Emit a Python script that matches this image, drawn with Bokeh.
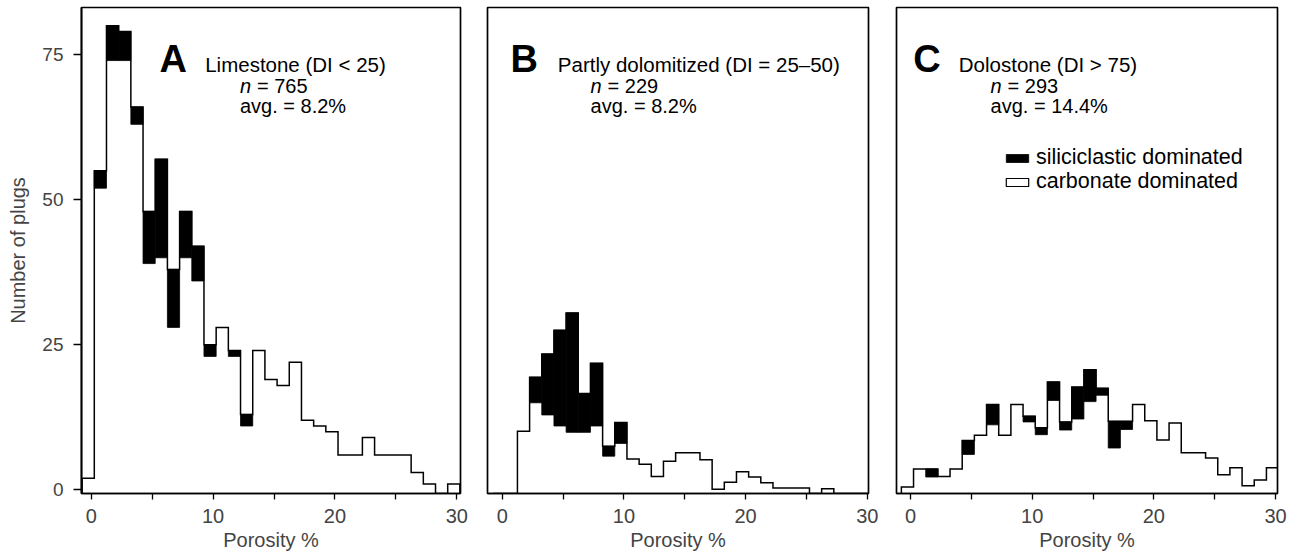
import numpy as np
from bokeh.plotting import figure
from bokeh.layouts import row
from bokeh.models import Range1d, FixedTicker, Label, ColumnDataSource, Legend, LegendItem
from bokeh.embed import file_html
from bokeh.resources import INLINE

# ---------------- data ----------------
# lower edges of the 1 %-wide porosity classes (as placed in the original figure)
bin_low = [-0.75, 0.25, 1.25, 2.25, 3.25, 4.25, 5.25, 6.25, 7.25, 8.25, 9.25,
           10.25, 11.25, 12.25, 13.25, 14.25, 15.25, 16.25, 17.25, 18.25, 19.25,
           20.25, 21.25, 22.25, 23.25, 24.25, 25.25, 26.25, 27.25, 28.25, 29.25]
BIN_W = 1.0

# A  Limestone: total plugs per class and carbonate-dominated part
a_total = [2, 55, 80, 79, 66, 48, 57, 38, 48, 42, 25, 28, 24, 13, 24, 19, 18, 22,
           12, 11, 10, 6, 6, 9, 6, 6, 6, 3, 1, 0, 1]
a_carb = [2, 52, 74, 74, 63, 39, 40, 28, 40, 36, 23, 28, 23, 11, 24, 19, 18, 22,
          12, 11, 10, 6, 6, 9, 6, 6, 6, 3, 1, 0, 1]

# B  Partly dolomitized
b_total = [0, 0, 10.1, 19.4, 23.4, 27.5, 30.5, 16.6, 21.8, 7.5, 11.6, 5.3, 4.4, 2.3,
           4.9, 6.4, 6.4, 5.2, 0.1, 1.3, 3.1, 2.2, 1.2, 0.3, 0.3, 0.3, 0, 0.2, 0, 0, 0]
b_carb = [0, 0, 10.1, 15.0, 12.9, 11.0, 9.9, 9.9, 11.0, 5.8, 8.0, 5.3, 4.4, 2.3,
          4.9, 6.4, 6.4, 5.2, 0.1, 1.3, 3.1, 2.2, 1.2, 0.3, 0.3, 0.3, 0, 0.2, 0, 0, 0]

# C  Dolostone
c_total = [0.5, 3.6, 3.6, 2.3, 3.6, 8.5, 9.4, 14.7, 9.4, 14.7, 12.7, 10.7, 18.6, 11.7,
           17.7, 20.7, 17.5, 11.8, 11.8, 14.7, 11.9, 8.6, 11.5, 6.4, 6.4, 5.5, 2.6,
           3.8, 0.7, 1.7, 3.8]
c_carb = [0.5, 3.6, 2.2, 2.3, 3.6, 6.1, 9.4, 11.2, 9.4, 14.7, 11.7, 9.5, 15.4, 10.3,
          12.2, 15.2, 16.3, 7.2, 10.4, 14.7, 11.9, 8.6, 11.5, 6.4, 6.4, 5.5, 2.6,
          3.8, 0.7, 1.7, 3.8]

letters = ["A", "B", "C"]
titles = ["Limestone (DI < 25)", "Partly dolomitized (DI = 25\u201350)", "Dolostone (DI > 75)"]
n_values = ["= 765", "= 229", "= 293"]
avg_values = ["avg. = 8.2%", "avg. = 8.2%", "avg. = 14.4%"]
x_ticks = [0, 10, 20, 30]
x_minor = [5, 15, 25]
y_ticks = [0, 25, 50, 75]
legend_labels = ["siliciclastic dominated", "carbonate dominated"]

FONT = "Liberation Sans"
Y0, Y1 = -0.64, 83.15


def make_panel(total, carb, width, bl, br, xr, show_y, txt_x, letter, title, nval, avg):
    p = figure(width=width, height=555, x_range=Range1d(*xr), y_range=Range1d(Y0, Y1),
               output_backend="svg", toolbar_location=None,
               min_border_left=bl, min_border_right=br, min_border_top=7, min_border_bottom=62)
    p.xgrid.visible = False
    p.ygrid.visible = False
    p.outline_line_color = "black"
    p.outline_line_width = 1.7
    p.background_fill_color = "white"
    p.border_fill_color = "white"

    # black (siliciclastic) caps
    lo = [l for l, t, c in zip(bin_low, total, carb) if t > c]
    src = ColumnDataSource(dict(
        left=lo,
        right=[l + BIN_W for l in lo],
        bottom=[c for t, c in zip(total, carb) if t > c],
        top=[t for t, c in zip(total, carb) if t > c]))
    black = p.quad(left="left", right="right", bottom="bottom", top="top", source=src,
                   fill_color="black", line_color="black", line_width=0.8)

    # step outline
    xs = [bin_low[0]]
    ys = [Y0]
    for l, t in zip(bin_low, total):
        y = t if t > 0 else Y0
        xs += [l, l + BIN_W]
        ys += [y, y]
    xs.append(bin_low[-1] + BIN_W)
    ys.append(Y0)
    p.line(xs, ys, line_color="black", line_width=1.5, line_join="miter")

    # axes
    ax = p.xaxis[0]
    ax.ticker = FixedTicker(ticks=x_ticks, minor_ticks=x_minor)
    ax.axis_label = "Porosity %"
    ax.axis_label_text_font = FONT
    ax.axis_label_text_font_size = "20px"
    ax.axis_label_text_font_style = "normal"
    ax.axis_label_standoff = 3
    ax.major_label_text_font = FONT
    ax.major_label_text_font_size = "20px"
    ax.major_label_standoff = 9
    ax.major_tick_out = 6
    ax.major_tick_in = 0
    ax.minor_tick_out = 6
    ax.minor_tick_in = 0
    ax.axis_line_width = 1.7
    ax.major_tick_line_width = 1.3
    ax.minor_tick_line_width = 1.3
    ax.minor_tick_line_color = "black"
    ax.major_tick_line_color = "black"

    if show_y:
        ay = p.yaxis[0]
        ay.ticker = FixedTicker(ticks=y_ticks, minor_ticks=[])
        ay.axis_label = "Number of plugs"
        ay.axis_label_text_font = FONT
        ay.axis_label_text_font_size = "20px"
        ay.axis_label_text_font_style = "normal"
        ay.axis_label_standoff = 10
        ay.major_label_text_font = FONT
        ay.major_label_text_font_size = "19px"
        ay.major_label_standoff = 10
        ay.major_tick_out = 8
        ay.major_tick_in = 0
        ay.minor_tick_line_color = None
        ay.axis_line_width = 1.7
        ay.major_tick_line_width = 1.3
    else:
        p.yaxis.visible = False

    lx, tx, nx = txt_x
    p.add_layout(Label(x=lx, y=74.3, text=letter, text_font=FONT, text_font_size="38px",
                       text_font_style="bold", text_baseline="alphabetic", text_color="black"))
    p.add_layout(Label(x=tx, y=73.3, text=title, text_font=FONT, text_font_size="20.5px",
                       text_baseline="alphabetic", text_color="black"))
    p.add_layout(Label(x=nx, y=69.7, text="n", text_font=FONT, text_font_size="20px",
                       text_font_style="italic", text_baseline="alphabetic", text_color="black"))
    p.add_layout(Label(x=nx, y=69.7, x_offset=17, text=nval, text_font=FONT, text_font_size="20px",
                       text_baseline="alphabetic", text_color="black"))
    p.add_layout(Label(x=nx, y=66.2, text=avg, text_font=FONT, text_font_size="20px",
                       text_baseline="alphabetic", text_color="black"))
    return p, black


pa, _ = make_panel(a_total, a_carb, 473, 81, 13, (-0.80, 30.30), True,
                   (5.6, 9.35, 12.2), letters[0], titles[0], n_values[0], avg_values[0])
pb, _ = make_panel(b_total, b_carb, 409, 14, 14, (-1.21, 30.10), False,
                   (0.68, 4.57, 7.26), letters[1], titles[1], n_values[1], avg_values[1])
pc, black_c = make_panel(c_total, c_carb, 417, 14, 22, (-1.15, 30.16), False,
                         (0.22, 3.97, 6.58), letters[2], titles[2], n_values[2], avg_values[2])

# legend proxy for the carbonate-dominated (white) part; hidden, only its swatch is used
white_proxy = pc.quad(left=bin_low[:1], right=[bin_low[0] + BIN_W], bottom=c_carb[:1],
                      top=c_total[:1], fill_color="white", line_color="black",
                      line_width=1.2, visible=False)

leg_style = dict(border_line_color=None, background_fill_alpha=0, padding=0, margin=0,
                 spacing=0, glyph_width=28, glyph_height=10, label_standoff=5,
                 label_text_font=FONT, label_text_font_size="21.5px",
                 label_text_color="black", label_height=21, inactive_fill_alpha=0)
leg1 = Legend(items=[LegendItem(label=legend_labels[0], renderers=[black_c])],
              location=(107, 323), **leg_style)
leg2 = Legend(items=[LegendItem(label=legend_labels[1], renderers=[white_proxy])],
              location=(107, 299), **leg_style)
pc.add_layout(leg1)
pc.add_layout(leg2)

layout = row(pa, pb, pc, spacing=0)
open("out.html", "w").write(file_html(layout, INLINE))
